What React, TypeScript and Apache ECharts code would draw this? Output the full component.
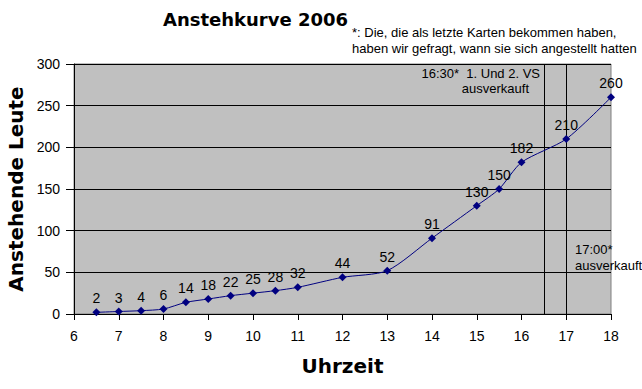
import React, { useEffect, useRef } from "react";
import * as echarts from "echarts";

const hours = [6.5, 7, 7.5, 8, 8.5, 9, 9.5, 10, 10.5, 11, 12, 13, 14, 15, 15.5, 16, 17, 18];
const people = [2, 3, 4, 6, 14, 18, 22, 25, 28, 32, 44, 52, 91, 130, 150, 182, 210, 260];
const soldOutTimes = [16.5, 17];

const FONT = "'Liberation Sans', Arial, sans-serif";
const BOLD = "'DejaVu Sans', 'Liberation Sans', sans-serif";

export default function App() {
  const ref = useRef<HTMLDivElement>(null);
  useEffect(() => {
    const chart = echarts.init(ref.current!, null, { renderer: "svg" });
    const small = { font: `13px ${FONT}`, fill: "#000", lineHeight: 16 };
    chart.setOption({
      animation: false,
      backgroundColor: "#ffffff",
      textStyle: { fontFamily: FONT },
      title: {
        text: "Anstehkurve 2006",
        left: 163,
        top: 10,
        padding: 0,
        textStyle: { fontFamily: BOLD, fontSize: 18, fontWeight: "bold", color: "#000" },
      },
      graphic: [
        {
          type: "text",
          left: 352,
          top: 24,
          style: {
            ...small,
            text: "*: Die, die als letzte Karten bekommen haben,\nhaben wir gefragt, wann sie sich angestellt hatten",
          },
        },
        { type: "text", right: 102, top: 65, style: { ...small, text: "16:30*  1. Und 2. VS" } },
        { type: "text", right: 113, top: 80, style: { ...small, text: "ausverkauft" } },
        { type: "text", left: 575, top: 241, style: { ...small, text: "17:00*" } },
        { type: "text", left: 575, top: 257, style: { ...small, text: "ausverkauft" } },
      ],
      grid: {
        left: 74,
        right: 31,
        top: 64,
        bottom: 75,
        show: true,
        backgroundColor: "#c0c0c0",
        borderColor: "#808080",
        borderWidth: 1,
        containLabel: false,
        outerBoundsMode: "none",
      },
      xAxis: {
        type: "value",
        min: 6,
        max: 18,
        interval: 1,
        name: "Uhrzeit",
        nameLocation: "middle",
        nameGap: 42,
        nameTextStyle: { fontFamily: BOLD, fontSize: 20, fontWeight: "bold", color: "#000" },
        axisLine: { show: true, lineStyle: { color: "#000" } },
        axisTick: { show: true, length: 6, lineStyle: { color: "#000" } },
        axisLabel: { fontFamily: FONT, fontSize: 14, color: "#000", margin: 15 },
        splitLine: { show: false },
      },
      yAxis: {
        type: "value",
        min: 0,
        max: 300,
        interval: 50,
        name: "Anstehende Leute",
        nameLocation: "middle",
        nameGap: 46,
        nameTextStyle: { fontFamily: BOLD, fontSize: 20, fontWeight: "bold", color: "#000" },
        axisLine: { show: true, lineStyle: { color: "#000" } },
        axisTick: { show: true, length: 8, lineStyle: { color: "#000" } },
        axisLabel: { fontFamily: FONT, fontSize: 14, color: "#000", margin: 14 },
        splitLine: { show: true, lineStyle: { color: "#000", width: 1 } },
      },
      series: [
        {
          type: "line",
          data: hours.map((h, i) => [h, people[i]]),
          smooth: 0.25,
          symbol: "diamond",
          symbolSize: 8,
          itemStyle: { color: "#000080" },
          lineStyle: { color: "#000080", width: 1 },
          label: {
            show: true,
            position: "top",
            distance: 3,
            fontFamily: FONT,
            fontSize: 14,
            color: "#000",
          },
          markLine: {
            silent: true,
            symbol: "none",
            label: { show: false },
            lineStyle: { color: "#000", width: 1, type: "solid" },
            data: soldOutTimes.map((t) => ({ xAxis: t })),
          },
          z: 5,
        },
      ],
    });
    return () => chart.dispose();
  }, []);
  return <div ref={ref} style={{ width: 642, height: 389, position: "absolute", left: 0, top: 0 }} />;
}
